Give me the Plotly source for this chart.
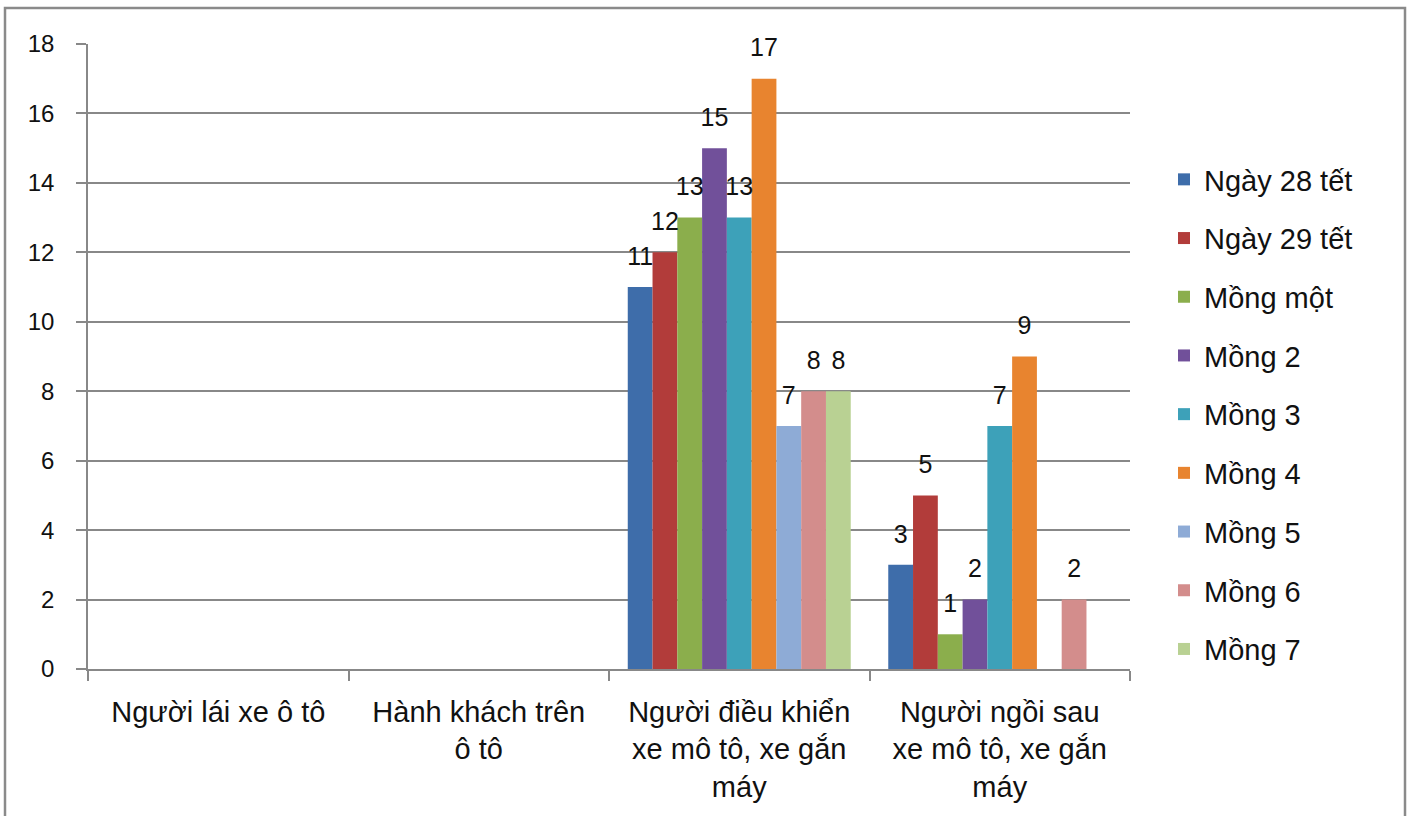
import plotly.graph_objects as go

categories = [
    "Người lái xe ô tô",
    "Hành khách trên<br>ô tô",
    "Người điều khiển<br>xe mô tô, xe gắn<br>máy",
    "Người ngồi sau<br>xe mô tô, xe gắn<br>máy",
]

series_names = ["Ngày 28 tết", "Ngày 29 tết", "Mồng một", "Mồng 2", "Mồng 3",
                "Mồng 4", "Mồng 5", "Mồng 6", "Mồng 7"]

ngay_28 = [0, 0, 11, 3]
ngay_29 = [0, 0, 12, 5]
mong_mot = [0, 0, 13, 1]
mong_2 = [0, 0, 15, 2]
mong_3 = [0, 0, 13, 7]
mong_4 = [0, 0, 17, 9]
mong_5 = [0, 0, 7, 0]
mong_6 = [0, 0, 8, 2]
mong_7 = [0, 0, 8, 0]

series_values = [ngay_28, ngay_29, mong_mot, mong_2, mong_3, mong_4, mong_5, mong_6, mong_7]

colors = ["#3E6DAA", "#B23C3A", "#8BAE4C", "#71509A", "#3DA1B9",
          "#E8842F", "#8EABD6", "#D38D8C", "#B9D193"]

y_ticks = [0, 2, 4, 6, 8, 10, 12, 14, 16, 18]

FONT = "Liberation Sans, Arial, sans-serif"
GRAY = "#888888"
GAP = 0.144

fig = go.Figure()
for i, (name, vals, col) in enumerate(zip(series_names, series_values, colors)):
    fig.add_trace(go.Bar(
        name=name,
        x=categories,
        y=vals,
        marker=dict(color=col, line=dict(width=0)),
        legendgroup=f"g{i}",
    ))

# data labels (skip zeros), grouped the same way as the bars
for i, (name, vals) in enumerate(zip(series_names, series_values)):
    fig.add_trace(go.Scatter(
        x=categories,
        y=[v if v != 0 else None for v in vals],
        mode="markers+text",
        marker=dict(size=24, opacity=0),
        text=[str(v) if v != 0 else "" for v in vals],
        textposition="top center",
        textfont=dict(family=FONT, size=25, color="#111111"),
        cliponaxis=False,
        showlegend=False,
        hoverinfo="skip",
    ))

W, H = 1413, 816
L, R, T, B = 88, W - 1130, 44, H - 669
pw, ph = W - L - R, H - T - B

fig.update_layout(
    width=W, height=H,
    margin=dict(l=L, r=R, t=T, b=B, autoexpand=False),
    plot_bgcolor="white",
    paper_bgcolor="white",
    barmode="group",
    bargap=GAP,
    bargroupgap=0,
    scattermode="group",
    scattergap=GAP,
    font=dict(family=FONT, color="#111111"),
    showlegend=True,
    legend=dict(
        x=(1164 - L) / pw, y=(669 - 154) / ph,
        xanchor="left", yanchor="top",
        font=dict(family=FONT, size=29, color="#111111"),
        traceorder="grouped",
        tracegroupgap=18,
        itemwidth=30,
        bgcolor="rgba(0,0,0,0)",
    ),
    xaxis=dict(
        type="category",
        showgrid=False,
        showline=True, linecolor=GRAY, linewidth=1.5,
        ticks="outside", tickson="boundaries", ticklen=10, tickcolor=GRAY, tickwidth=1.5,
        tickfont=dict(family=FONT, size=29, color="#111111"),
        tickangle=0,
        ticklabelstandoff=16,
    ),
    yaxis=dict(
        range=[0, 18],
        tickvals=y_ticks,
        showgrid=True, gridcolor=GRAY, gridwidth=1.5,
        showline=True, linecolor=GRAY, linewidth=1.5,
        ticks="outside", ticklen=10, tickcolor=GRAY, tickwidth=1.5,
        tickfont=dict(family=FONT, size=24, color="#111111"),
        ticklabelstandoff=17,
        zeroline=False,
    ),
    shapes=[dict(
        type="rect", xref="paper", yref="paper",
        x0=(5 - L) / pw, x1=(1405 - L) / pw,
        y0=(669 - 830) / ph, y1=(669 - 8) / ph,
        line=dict(color="#8a8a8a", width=2.5),
        fillcolor="rgba(0,0,0,0)",
        layer="below",
    )],
)

fig.write_html("out.html", config={"displayModeBar": False},
               post_script="document.body.style.margin='0';")
